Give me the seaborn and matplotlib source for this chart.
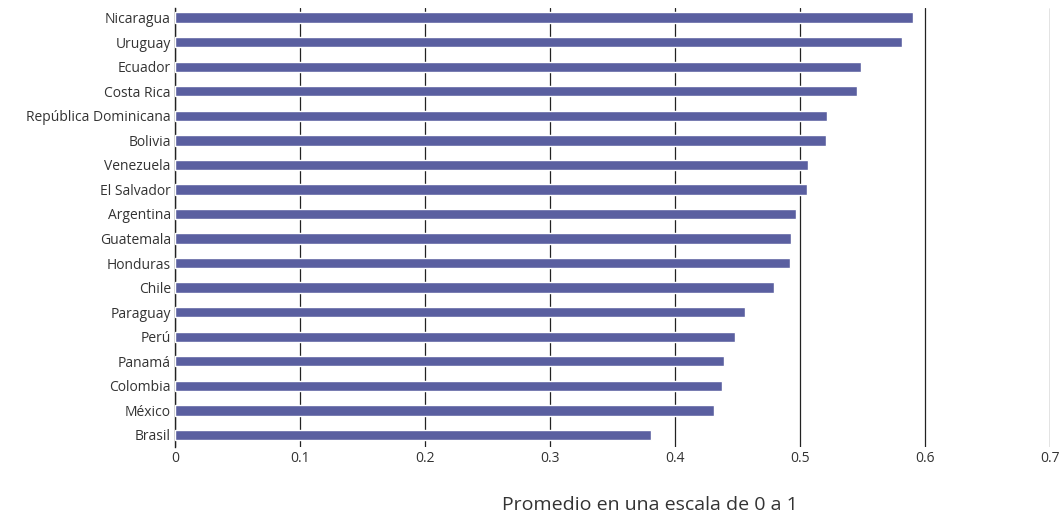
import matplotlib
matplotlib.use("Agg")
import matplotlib.pyplot as plt
import seaborn as sns
import pandas as pd

paises = ["Nicaragua", "Uruguay", "Ecuador", "Costa Rica", "República Dominicana",
          "Bolivia", "Venezuela", "El Salvador", "Argentina", "Guatemala", "Honduras",
          "Chile", "Paraguay", "Perú", "Panamá", "Colombia", "México", "Brasil"]
valores = [0.591, 0.582, 0.549, 0.546, 0.522, 0.521, 0.507, 0.506, 0.497, 0.493,
           0.492, 0.479, 0.456, 0.448, 0.439, 0.438, 0.431, 0.381]
ticks = [0, 0.1, 0.2, 0.3, 0.4, 0.5, 0.6, 0.7]
tick_labels = ["0", "0.1", "0.2", "0.3", "0.4", "0.5", "0.6", "0.7"]

df = pd.DataFrame({"pais": paises, "valor": valores})

sns.set_style("white")
plt.rcParams["font.family"] = ["Open Sans", "DejaVu Sans"]

fig = plt.figure(figsize=(10.64, 5.2), dpi=100)
ax = fig.add_axes([0.1645, 0.14, 0.822, 0.845])
sns.barplot(data=df, x="valor", y="pais", color="#5A5FA0", saturation=1,
            width=0.42, ax=ax, zorder=3)

ax.set_xlim(0, 0.7)
ax.set_ylim(17.5, -0.4)
ax.set_xticks(ticks)
ax.set_xticklabels(tick_labels)
ax.grid(axis="x", color="#222222", linewidth=0.9, zorder=0)
ax.grid(axis="y", visible=False)
for s in ["top", "right", "bottom"]:
    ax.spines[s].set_visible(False)
ax.spines["left"].set_color("#222222")
ax.spines["left"].set_linewidth(1.0)
ax.tick_params(axis="both", length=0, labelsize=10, colors="#333333", pad=3)
ax.set_ylabel("")
ax.set_xlabel("Promedio en una escala de 0 a 1", fontsize=14, color="#333333")
ax.xaxis.set_label_coords(0.543, -0.11)

fig.savefig("out.png", dpi=100)
